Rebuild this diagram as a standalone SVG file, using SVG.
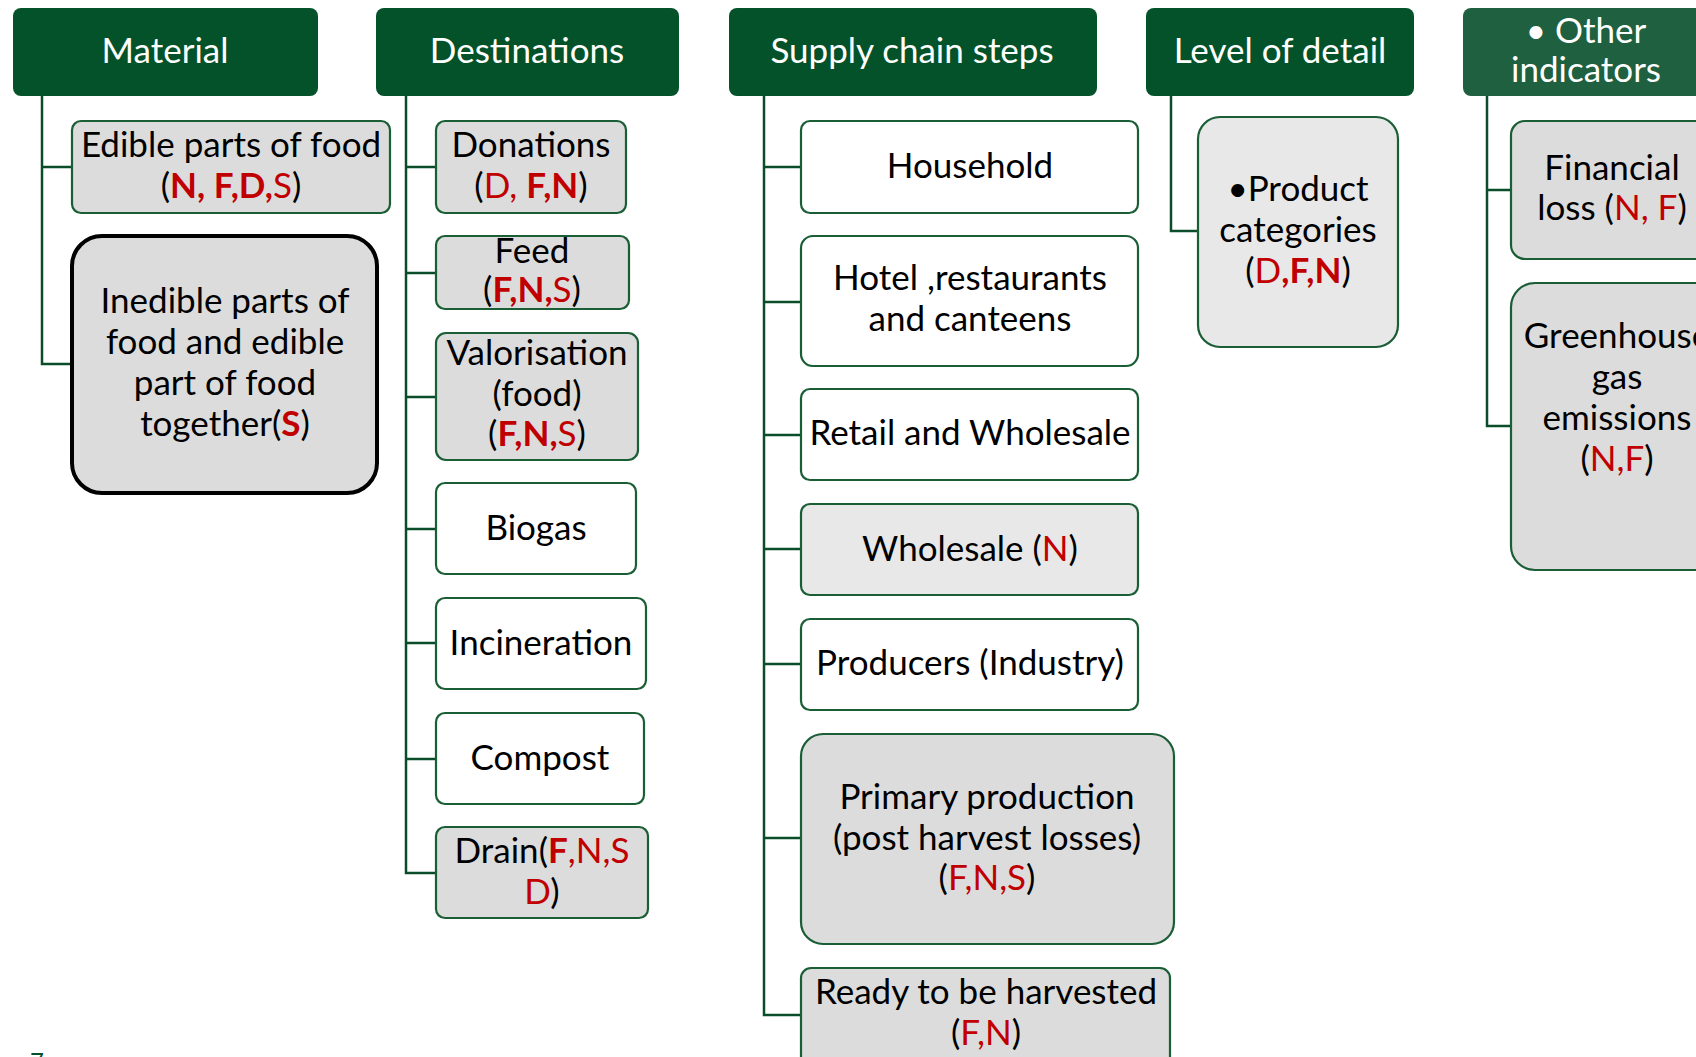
<svg xmlns="http://www.w3.org/2000/svg" width="1696" height="1057" viewBox="0 0 1696 1057">
<style>
text{font-family:Lato,"Open Sans","Liberation Sans",sans-serif;font-size:35px;fill:#000;text-anchor:middle}
.h{fill:#03522a}
.h2{fill:#1e6040}
.ht{fill:#fff;font-size:35px}
.g{fill:#dcdcdc;stroke:#1a5e35;stroke-width:2.2}
.l{fill:#e8e8e8;stroke:#1a5e35;stroke-width:2.2}
.w{fill:#fff;stroke:#1a5e35;stroke-width:2.2}
.r{fill:#c00000}
.b{font-weight:bold}
.c{fill:none;stroke:#0b4d2a;stroke-width:2.5}
</style>
<g id="connectors">
<path class="c" d="M42 96V364H72M42 167H72"/>
<path class="c" d="M406 96V873H436M406 167H436M406 273H436M406 397H436M406 529H436M406 643H436M406 759H436"/>
<path class="c" d="M764 96V1015H801M764 167H801M764 302H801M764 435H801M764 549H801M764 664H801M764 838H801"/>
<path class="c" d="M1171 96V231H1198"/>
<path class="c" d="M1487 96V426H1511M1487 190H1511"/>
</g>
<g id="h-material"><rect class="h" x="13" y="8" width="305" height="88" rx="8"/><text class="ht" x="165" y="63">Material</text></g>
<g id="h-destinations"><rect class="h" x="376" y="8" width="303" height="88" rx="8"/><text class="ht" x="527" y="63">Destinations</text></g>
<g id="h-supply"><rect class="h" x="729" y="8" width="368" height="88" rx="8"/><text class="ht" x="912" y="63">Supply chain steps</text></g>
<g id="h-level"><rect class="h" x="1146" y="8" width="268" height="88" rx="8"/><text class="ht" x="1280" y="63">Level of detail</text></g>
<g id="h-other"><rect class="h2" x="1463" y="8" width="260" height="88" rx="8"/><text class="ht" x="1586" y="43">• Other</text><text class="ht" x="1586" y="82">indicators</text></g>

<g id="n-edible"><rect class="g" x="72" y="121" width="318" height="92" rx="9"/><text x="231" y="157">Edible parts of food</text><text x="231" y="198">(<tspan class="r b">N, F,D,</tspan><tspan class="r">S</tspan>)</text></g>
<g id="n-inedible"><rect x="72" y="236" width="305" height="257" rx="30" fill="#dcdcdc" stroke="#000" stroke-width="4"/><text x="225" y="313">Inedible parts of</text><text x="225" y="354">food and edible</text><text x="225" y="395">part of food</text><text x="225" y="436">together(<tspan class="r b">S</tspan>)</text></g>

<g id="n-donations"><rect class="g" x="436" y="121" width="190" height="92" rx="9"/><text x="531" y="157">Donations</text><text x="531" y="198">(<tspan class="r">D, </tspan><tspan class="r b">F,N</tspan>)</text></g>
<g id="n-feed"><rect class="g" x="436" y="236" width="193" height="73" rx="9"/><text x="532" y="263">Feed</text><text x="532" y="302">(<tspan class="r b">F,N,</tspan><tspan class="r">S</tspan>)</text></g>
<g id="n-valorisation"><rect class="g" x="436" y="333" width="202" height="127" rx="10"/><text x="537" y="365">Valorisation</text><text x="537" y="406">(food)</text><text x="537" y="446">(<tspan class="r b">F,N,</tspan><tspan class="r">S</tspan>)</text></g>
<g id="n-biogas"><rect class="w" x="436" y="483" width="200" height="91" rx="9"/><text x="536" y="540">Biogas</text></g>
<g id="n-incineration"><rect class="w" x="436" y="598" width="210" height="91" rx="9"/><text x="541" y="655">Incineration</text></g>
<g id="n-compost"><rect class="w" x="436" y="713" width="208" height="91" rx="9"/><text x="540" y="770">Compost</text></g>
<g id="n-drain"><rect class="g" x="436" y="827" width="212" height="91" rx="9"/><text x="542" y="863">Drain(<tspan class="r b">F</tspan><tspan class="r">,N,S</tspan></text><text x="542" y="904"><tspan class="r">D</tspan>)</text></g>

<g id="n-household"><rect class="w" x="801" y="121" width="337" height="92" rx="9"/><text x="970" y="178">Household</text></g>
<g id="n-hotel"><rect class="w" x="801" y="236" width="337" height="130" rx="12"/><text x="970" y="290">Hotel ,restaurants</text><text x="970" y="331">and canteens</text></g>
<g id="n-retail"><rect class="w" x="801" y="389" width="337" height="91" rx="9"/><text x="970" y="445">Retail and Wholesale</text></g>
<g id="n-wholesale"><rect class="l" x="801" y="504" width="337" height="91" rx="9"/><text x="970" y="561">Wholesale (<tspan class="r">N</tspan>)</text></g>
<g id="n-producers"><rect class="w" x="801" y="619" width="337" height="91" rx="9"/><text x="970" y="675">Producers (Industry)</text></g>
<g id="n-primary"><rect class="g" x="801" y="734" width="373" height="210" rx="22" fill="#d9d9d9"/><text x="987" y="809">Primary production</text><text x="987" y="850">(post harvest losses)</text><text x="987" y="890">(<tspan class="r">F,N,S</tspan>)</text></g>
<g id="n-ready"><rect class="g" x="801" y="968" width="369" height="100" rx="10"/><text x="986" y="1004">Ready to be harvested</text><text x="986" y="1045">(<tspan class="r">F,N</tspan>)</text></g>

<g id="n-product"><rect class="l" x="1198" y="117" width="200" height="230" rx="22"/><text x="1298" y="201">•Product</text><text x="1298" y="242">categories</text><text x="1298" y="283">(<tspan class="r">D</tspan><tspan class="r b">,F,N</tspan>)</text></g>

<g id="n-financial"><rect class="g" x="1511" y="121" width="210" height="138" rx="14"/><text x="1612" y="180">Financial</text><text x="1612" y="220">loss (<tspan class="r">N, F</tspan>)</text></g>
<g id="n-greenhouse"><rect class="g" x="1511" y="283" width="210" height="287" rx="24"/><text x="1617" y="348">Greenhouse</text><text x="1617" y="389">gas</text><text x="1617" y="430">emissions</text><text x="1617" y="471">(<tspan class="r">N,F</tspan>)</text></g>

<text x="37" y="1070" style="fill:#03522a;font-size:24px">7</text>
</svg>
